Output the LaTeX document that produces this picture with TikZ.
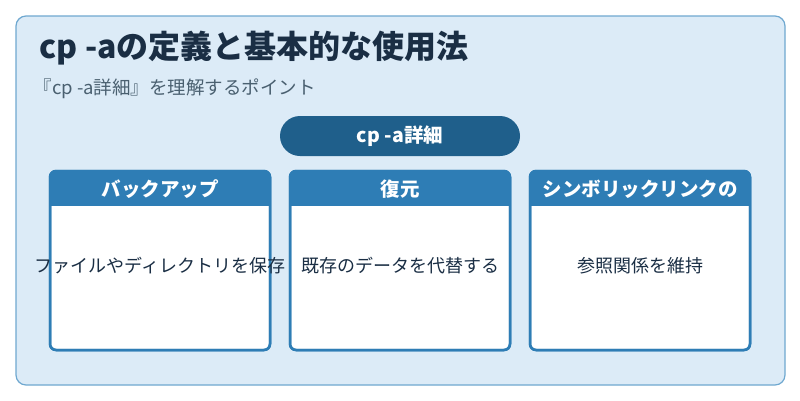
\documentclass[tikz,border=0pt]{standalone}
\usepackage{fontspec}
\setmainfont{Noto Sans CJK JP}
\definecolor{bgc}{HTML}{DCEBF7}
\definecolor{bdc}{HTML}{6FA8D0}
\definecolor{ttc}{HTML}{1A2E44}
\definecolor{sbc}{HTML}{4A6070}
\definecolor{pill}{HTML}{1F5F8B}
\definecolor{hdc}{HTML}{2E7DB5}
\begin{document}
\begin{tikzpicture}[x=1pt,y=-1pt,
  card/.style={draw=hdc,line width=2.5pt,fill=white,rounded corners=6pt},
  hdtxt/.style={text=white,font=\fontsize{19.5}{22}\selectfont\bfseries},
  bdtxt/.style={text=ttc,font=\fontsize{18}{21}\selectfont}]
\useasboundingbox (0,0) rectangle (800,400);
\fill[white] (0,0) rectangle (800,400);
\draw[bdc,fill=bgc,line width=1.2pt,rounded corners=10pt] (16,16) rectangle (785,385);
\node[anchor=west,text=ttc,font=\fontsize{32}{36}\selectfont\bfseries] (title) at (36,48) {cp -aの定義と基本的な使用法};
\node[anchor=west,text=sbc,font=\fontsize{18.5}{21}\selectfont] (sub) at (30,89) {『cp -a詳細』を理解するポイント};
\fill[pill,rounded corners=20pt] (280,116) rectangle (520,156);
\node[text=white,font=\fontsize{19.5}{22}\selectfont\bfseries] (p) at (400,136) {cp -a詳細};
\foreach \x/\h/\b [count=\i] in {50/バックアップ/ファイルやディレクトリを保存,290/復元/既存のデータを代替する,530/シンボリックリンクの/参照関係を維持}{
  \draw[card] (\x,171) rectangle (\x+220,350);
  \begin{scope}
  \clip[rounded corners=6pt] (\x,171) rectangle (\x+220,350);
  \fill[hdc] (\x,171) rectangle (\x+220,206);
  \end{scope}
  \draw[hdc,line width=2.5pt,rounded corners=6pt] (\x,171) rectangle (\x+220,350);
  \node[hdtxt] (h\i) at (\x+110,189) {\h};
  \node[bdtxt] (b\i) at (\x+110,266) {\b};
}
\end{tikzpicture}
\end{document}
